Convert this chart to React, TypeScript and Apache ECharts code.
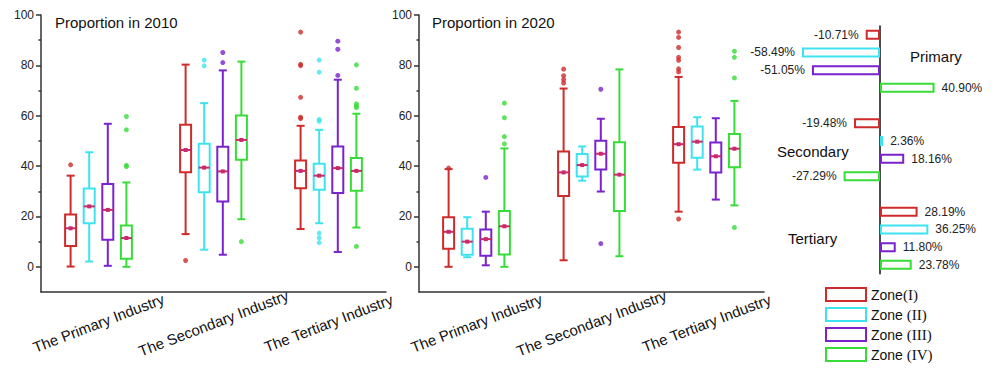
import React, { useEffect, useRef } from "react";
import * as echarts from "echarts";

const SANS = "'Liberation Sans', Arial, Helvetica, sans-serif";
const SERIF = "'Liberation Serif', 'Times New Roman', serif";

const categories = ["The Primary Industry", "The Secondary Industry", "The Tertiary Industry"];
const zones = ["Zone(I)", "Zone (II)", "Zone (III)", "Zone (IV)"];
const zoneColors = ["#cf2b2b", "#3ee3ef", "#7a22cc", "#38dc38"];
const medianColor = "#c82a6c";
const yTickValues = [0, 20, 40, 60, 80, 100];
const yMinorTickValues = [10, 30, 50, 70, 90];

// [low whisker, Q1, median, Q3, high whisker] per industry
const box2010ZoneI = [[0.1, 8.3, 15.3, 20.8, 36.2], [13.0, 37.6, 46.4, 56.4, 80.3], [15.0, 31.2, 38.1, 42.2, 56.0]];
const box2010ZoneII = [[2.1, 17.3, 24.0, 31.1, 45.5], [6.8, 29.6, 39.4, 48.9, 65.0], [17.3, 30.6, 36.2, 40.9, 54.4]];
const box2010ZoneIII = [[0.4, 10.7, 22.6, 32.9, 56.8], [4.8, 25.9, 37.9, 47.7, 78.0], [5.9, 29.3, 39.2, 47.8, 74.3]];
const box2010ZoneIV = [[0, 3.2, 11.4, 16.4, 33.5], [18.9, 42.5, 50.4, 60.1, 81.5], [15.6, 30.2, 38.1, 43.2, 60.8]];

const box2020ZoneI = [[0, 7.2, 13.9, 19.7, 38.8], [2.6, 28.1, 37.5, 45.8, 70.8], [21.9, 41.3, 48.7, 55.5, 75.4]];
const box2020ZoneII = [[3.8, 4.8, 10.0, 15.1, 19.7], [34.2, 35.9, 40.4, 44.8, 47.8], [38.6, 43.3, 49.7, 55.7, 59.4]];
const box2020ZoneIII = [[0.6, 4.4, 11.0, 14.8, 21.9], [29.9, 38.6, 44.9, 50.1, 58.8], [26.7, 37.5, 43.9, 49.4, 59.0]];
const box2020ZoneIV = [[0, 4.9, 16.1, 22.2, 47.0], [4.2, 22.2, 36.6, 49.5, 78.4], [24.4, 39.5, 46.9, 52.7, 65.9]];

// outliers: [industry index, value]
const out2010ZoneI = [[0, 40.5], [1, 2.5], [2, 93.2], [2, 80.4], [2, 79.9], [2, 67.3], [2, 59.4], [2, 58.9]];
const out2010ZoneII = [[1, 82.1], [1, 79.8], [2, 82.1], [2, 77.3], [2, 58.5], [2, 57.8], [2, 13.4], [2, 11.5], [2, 9.6]];
const out2010ZoneIII = [[1, 85.1], [1, 81.1], [2, 89.6], [2, 86.4], [2, 76.0]];
const out2010ZoneIV = [[0, 59.7], [0, 54.4], [0, 40.3], [0, 39.8], [1, 10.0], [2, 80.2], [2, 70.9], [2, 64.7], [2, 63.9], [2, 63.2], [2, 8.1]];

const out2020ZoneI = [[0, 39.2], [1, 78.5], [1, 75.9], [1, 74.4], [1, 73.0], [2, 93.2], [2, 91.1], [2, 87.1], [2, 83.2], [2, 82.0], [2, 78.6], [2, 77.4], [2, 19.0]];
const out2020ZoneII: number[][] = [];
const out2020ZoneIII = [[0, 35.5], [1, 70.5], [1, 9.2]];
const out2020ZoneIV = [[0, 65.0], [0, 59.2], [0, 51.7], [0, 48.8], [2, 85.6], [2, 83.2], [2, 75.0], [2, 15.6]];

// change in proportion (%)
const changeCategories = ["Primary", "Secondary", "Tertiary"];
const changeZoneI = [-10.71, -19.48, 28.19];
const changeZoneII = [-58.49, 2.36, 36.25];
const changeZoneIII = [-51.05, 18.16, 11.8];
const changeZoneIV = [40.9, -27.29, 23.78];

const panelTitles = ["Proportion in 2010", "Proportion in 2020"];

const boxes = [
  [box2010ZoneI, box2010ZoneII, box2010ZoneIII, box2010ZoneIV],
  [box2020ZoneI, box2020ZoneII, box2020ZoneIII, box2020ZoneIV],
];
const outliers = [
  [out2010ZoneI, out2010ZoneII, out2010ZoneIII, out2010ZoneIV],
  [out2020ZoneI, out2020ZoneII, out2020ZoneIII, out2020ZoneIV],
];
const changes = [changeZoneI, changeZoneII, changeZoneIII, changeZoneIV];

const ZONE_STEP = 18.6;
const zoneOffset = (z: number) => (z - 1.5) * ZONE_STEP;

export default function App() {
  const ref = useRef<HTMLDivElement>(null);

  useEffect(() => {
    if (!ref.current) return;
    const chart = echarts.init(ref.current, null, { renderer: "svg" });
    const axisLineStyle = { color: "#333", width: 1.5 };

    const grids = [
      { left: 41, top: 15, width: 345, height: 277 },
      { left: 419, top: 15, width: 345, height: 277 },
      { left: 800, top: 25.9, width: 160, height: 247.8 },
    ];

    const xAxes: any[] = [0, 1].map((g) => ({
      type: "category",
      gridIndex: g,
      data: categories,
      boundaryGap: true,
      axisLine: { onZero: false, lineStyle: axisLineStyle },
      axisTick: { alignWithLabel: true, length: 5, lineStyle: axisLineStyle },
      axisLabel: {
        interval: 0,
        rotate: 21,
        align: "center",
        verticalAlign: "middle",
        margin: 31,
        fontSize: 15,
        color: "#111",
        fontFamily: SANS,
      },
      splitLine: { show: false },
    }));
    xAxes.push({ type: "value", gridIndex: 2, min: -60, max: 60, show: false });

    const yAxes: any[] = [];
    [0, 1].forEach((g) => {
      yAxes.push({
        type: "value",
        gridIndex: g,
        position: "left",
        min: -10,
        max: 100,
        interval: 10,
        axisLine: { show: true, lineStyle: axisLineStyle },
        axisTick: { show: true, length: 5, customValues: yTickValues, lineStyle: axisLineStyle },
        axisLabel: { customValues: yTickValues, fontSize: 12, color: "#222", margin: 7, fontFamily: SANS },
        splitLine: { show: false },
      });
      yAxes.push({
        type: "value",
        gridIndex: g,
        position: "left",
        min: -10,
        max: 100,
        interval: 10,
        axisLine: { show: false },
        axisTick: { show: true, length: 2.5, customValues: yMinorTickValues, lineStyle: axisLineStyle },
        axisLabel: { show: false },
        splitLine: { show: false },
      });
    });
    const slotNames: string[] = [];
    for (let i = 0; i < changeCategories.length * 5 - 1; i++) slotNames.push("s" + i);
    yAxes.push({
      type: "category",
      gridIndex: 2,
      data: slotNames,
      inverse: true,
      boundaryGap: true,
      axisLine: { show: true, onZero: true, lineStyle: { color: "#111", width: 1.5 } },
      axisTick: { show: false },
      axisLabel: { show: false },
      splitLine: { show: false },
    });

    const series: any[] = [];
    [0, 1].forEach((p) => {
      zones.forEach((zone, z) => {
        const color = zoneColors[z];
        const off = zoneOffset(z);
        series.push({
          type: "custom",
          name: zone,
          xAxisIndex: p,
          yAxisIndex: p * 2,
          encode: { x: 0, y: [1, 2, 3, 4, 5] },
          data: boxes[p][z].map((b, i) => [i, ...b]),
          renderItem: (params: any, api: any) => {
            const cat = api.value(0);
            const x = api.coord([cat, 0])[0] + off;
            const yLow = api.coord([cat, api.value(1)])[1];
            const yQ1 = api.coord([cat, api.value(2)])[1];
            const yMed = api.coord([cat, api.value(3)])[1];
            const yQ3 = api.coord([cat, api.value(4)])[1];
            const yHigh = api.coord([cat, api.value(5)])[1];
            const bw = 11;
            const cw = 8;
            const st = { stroke: color, lineWidth: 2, fill: null };
            return {
              type: "group",
              children: [
                { type: "line", shape: { x1: x, y1: yQ3, x2: x, y2: yHigh }, style: st },
                { type: "line", shape: { x1: x, y1: yQ1, x2: x, y2: yLow }, style: st },
                { type: "line", shape: { x1: x - cw / 2, y1: yHigh, x2: x + cw / 2, y2: yHigh }, style: st },
                { type: "line", shape: { x1: x - cw / 2, y1: yLow, x2: x + cw / 2, y2: yLow }, style: st },
                { type: "rect", shape: { x: x - bw / 2, y: yQ3, width: bw, height: yQ1 - yQ3 }, style: { stroke: color, lineWidth: 2, fill: "rgba(255,255,255,0)" } },
                { type: "line", shape: { x1: x - bw / 2, y1: yMed, x2: x + bw / 2, y2: yMed }, style: { stroke: medianColor, lineWidth: 2 } },
                { type: "rect", shape: { x: x - 2, y: yMed - 2, width: 4, height: 4 }, style: { fill: medianColor } },
              ],
            };
          },
        });
        series.push({
          type: "scatter",
          name: zone,
          xAxisIndex: p,
          yAxisIndex: p * 2,
          symbol: "circle",
          symbolSize: 5,
          symbolOffset: [off, 0],
          itemStyle: { color },
          data: outliers[p][z],
        });
      });
    });

    zones.forEach((zone, z) => {
      const data: any[] = slotNames.map(() => "-");
      changes[z].forEach((v, c) => {
        data[c * 5 + z] = {
          value: v,
          label: { position: v < 0 ? "left" : "right" },
        };
      });
      series.push({
        type: "bar",
        name: zone,
        xAxisIndex: 2,
        yAxisIndex: 4,
        barWidth: 10,
        barGap: "-100%",
        itemStyle: { color: "rgba(255,255,255,0)", borderColor: zoneColors[z], borderWidth: 2 },
        label: {
          show: true,
          distance: 7,
          fontSize: 12,
          color: "#222",
          fontFamily: SANS,
          formatter: (prm: any) => (prm.value as number).toFixed(2) + "%",
        },
        data,
      });
    });

    const option: any = {
      animation: false,
      backgroundColor: "#fff",
      textStyle: { fontFamily: SANS },
      title: [
        { text: panelTitles[0], left: 55, top: 15, padding: 0, textStyle: { fontSize: 15, fontWeight: "normal", color: "#111", fontFamily: SANS } },
        { text: panelTitles[1], left: 432, top: 15, padding: 0, textStyle: { fontSize: 15, fontWeight: "normal", color: "#111", fontFamily: SANS } },
      ],
      grid: grids,
      xAxis: xAxes,
      yAxis: yAxes,
      legend: {
        orient: "vertical",
        left: 825,
        top: 287,
        height: 85,
        padding: 0,
        itemWidth: 40,
        itemHeight: 13,
        itemGap: 5,
        selectedMode: false,
        data: zones.map((z, i) => ({
          name: z,
          icon: "rect",
          itemStyle: { color: "#fff", borderColor: zoneColors[i], borderWidth: 2 },
        })),
        formatter: (name: string) => {
          const m = name.match(/^(Zone\s?)(\(.*\))$/);
          return m ? `{a|${m[1]}}{b|${m[2]}}` : name;
        },
        textStyle: {
          lineHeight: 13,
          rich: {
            a: { fontSize: 14, lineHeight: 13, fontFamily: SANS, color: "#111" },
            b: { fontSize: 15, lineHeight: 13, fontFamily: SERIF, color: "#111" },
          },
        },
      },
      graphic: [
        { type: "text", left: 910, top: 49, style: { text: changeCategories[0], fontSize: 15, fontFamily: SANS, fill: "#111" } },
        { type: "text", left: 777, top: 144, style: { text: changeCategories[1], fontSize: 15, fontFamily: SANS, fill: "#111" } },
        { type: "text", left: 788, top: 231, style: { text: changeCategories[2], fontSize: 15, fontFamily: SANS, fill: "#111" } },
      ],
      series,
    };
    chart.setOption(option);
    return () => chart.dispose();
  }, []);

  return (
    <div
      ref={ref}
      style={{ position: "fixed", left: 0, top: 0, width: 1000, height: 373, background: "#fff" }}
    />
  );
}
